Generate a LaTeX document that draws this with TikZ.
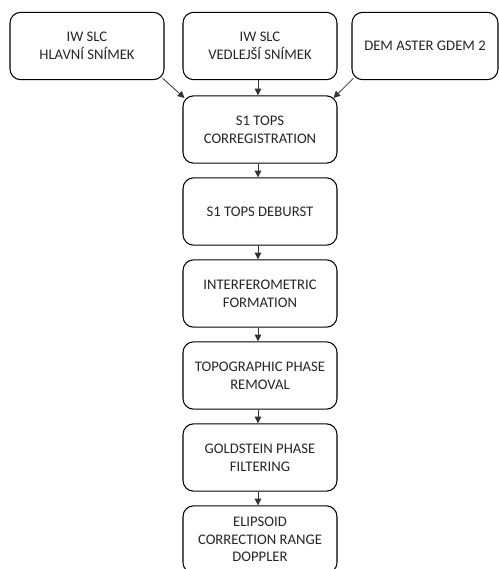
\documentclass[tikz,border=0pt]{standalone}
\usepackage{fontspec}
\setmainfont{Carlito}
\usetikzlibrary{arrows.meta}
\begin{document}
\begin{tikzpicture}[x=0.75pt,y=-0.75pt,
  stepbox/.style={draw=black, line width=0.8pt, rounded corners=8pt,
    minimum width=115.5pt, minimum height=50.5pt, align=center,
    text=black!85, font=\fontsize{11pt}{13.3pt}\selectfont, inner sep=2pt},
  link/.style={draw=black!80, line width=0.6pt, -{Triangle[length=5pt,width=5pt]}}]
\useasboundingbox (0,0) rectangle (499,569);
\clip (0,0) rectangle (499,569);
% input products
\node[stepbox] (master) at (87,46) {IW SLC\\HLAVNÍ SNÍMEK};
\node[stepbox] (slave) at (260,46) {IW SLC\\VEDLEJŠÍ SNÍMEK};
\node[stepbox, minimum width=109.5pt] (dem) at (425,46) {DEM ASTER GDEM 2};
% processing chain
\node[stepbox] (coreg) at (260,129.5) {S1 TOPS\\CORREGISTRATION};
\node[stepbox] (deburst) at (260,211.5) {S1 TOPS DEBURST};
\node[stepbox] (ifg) at (260,293.5) {INTERFEROMETRIC\\FORMATION};
\node[stepbox] (topo) at (260,375.5) {TOPOGRAPHIC PHASE\\REMOVAL};
\node[stepbox] (gold) at (260,457.5) {GOLDSTEIN PHASE\\FILTERING};
\node[stepbox] (ellip) at (260,539.5) {ELIPSOID\\CORRECTION RANGE\\DOPPLER};
% connectors
\draw[link] ([xshift=-1.5pt,yshift=1.5pt]master.south east) -- ([xshift=1.5pt,yshift=-2pt]coreg.north west);
\draw[link] ([xshift=1.5pt,yshift=1.5pt]dem.south west) -- ([xshift=-3pt,yshift=-2pt]coreg.north east);
\draw[link] ([xshift=-1.5pt]slave.south) -- ([xshift=-1.5pt]coreg.north);
\draw[link] ([xshift=-1.5pt]coreg.south) -- ([xshift=-1.5pt]deburst.north);
\draw[link] ([xshift=-1.5pt]deburst.south) -- ([xshift=-1.5pt]ifg.north);
\draw[link] ([xshift=-1.5pt]ifg.south) -- ([xshift=-1.5pt]topo.north);
\draw[link] ([xshift=-1.5pt]topo.south) -- ([xshift=-1.5pt]gold.north);
\draw[link] ([xshift=-1.5pt]gold.south) -- ([xshift=-1.5pt]ellip.north);
\end{tikzpicture}
\end{document}
